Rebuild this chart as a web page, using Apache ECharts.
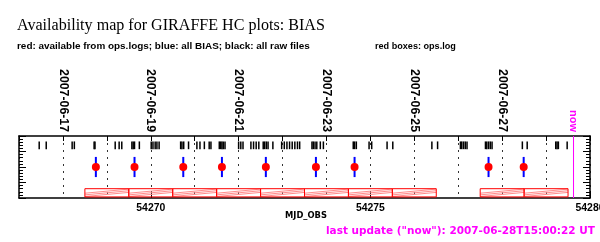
<!DOCTYPE html>
<html><head><meta charset="utf-8">
<script src="https://cdn.jsdelivr.net/npm/echarts@6/dist/echarts.min.js"></script>
<style>html,body{margin:0;padding:0;background:#fff}#c{width:600px;height:242px}</style>
</head><body><div id="c"></div>
<script>
// ---- data ----
const mjdMin = 54267, mjdMax = 54280;
const dateTickMjd = [54268, 54270, 54272, 54274, 54276, 54278];
const dateTickLabels = ['2007-06-17', '2007-06-19', '2007-06-21', '2007-06-23', '2007-06-25', '2007-06-27'];
const mjdTickValues = [54270, 54275, 54280];
const nowMjd = 54279.625;
const nowLabel = 'now';
const rawFilesMjd = [
  54267.46, 54267.62,
  54268.21, 54268.26,
  54268.71, 54268.73,
  54269.19, 54269.28, 54269.34,
  54269.57, 54269.60, 54269.63,
  54269.74,
  54270.01, 54270.05, 54270.10, 54270.14, 54270.19,
  54270.68, 54270.71, 54270.75,
  54270.86,
  54271.05, 54271.12, 54271.22, 54271.33, 54271.37,
  54271.56, 54271.59, 54271.62, 54271.65, 54271.69,
  54272.00, 54272.05, 54272.10,
  54272.28, 54272.34, 54272.40, 54272.46,
  54272.56, 54272.59, 54272.63, 54272.67,
  54272.78,
  54272.98, 54273.04, 54273.10, 54273.16, 54273.22, 54273.28, 54273.34, 54273.39,
  54273.67, 54273.70, 54273.74, 54273.78,
  54273.86, 54273.93,
  54274.61, 54274.64, 54274.68,
  54274.97, 54275.03,
  54275.38, 54275.51,
  54276.40, 54276.53,
  54277.05, 54277.08, 54277.12, 54277.16, 54277.20,
  54277.62, 54277.65, 54277.69, 54277.73,
  54277.77,
  54278.46, 54278.57,
  54279.22, 54279.25, 54279.28,
  54279.48
];
const biasMjd = [54268.75, 54269.63, 54270.74, 54271.62, 54272.62, 54273.76, 54274.64, 54277.69, 54278.49];
const opsLogsMjd = [54268.75, 54269.63, 54270.74, 54271.62, 54272.62, 54273.76, 54274.64, 54277.69, 54278.49];
const opsLogBoxes = [
  [54268.5, 54269.5], [54269.5, 54270.5], [54270.5, 54271.5], [54271.5, 54272.5],
  [54272.5, 54273.5], [54273.5, 54274.5], [54274.5, 54275.5], [54275.5, 54276.5],
  [54277.5, 54278.5], [54278.5, 54279.5]
];
// vertical levels of the rows (y scale 0..4)
const rawRow = [3.15, 3.65];
const dotRow = 2;
const biasHalf = 0.65;
const boxRow = [0.07, 0.6];

// ---- text fitting helper ----
const mctx = document.createElement('canvas').getContext('2d');
function fitSize(text, family, weight, target) {
  mctx.font = weight + ' 100px ' + family;
  return 100 * target / mctx.measureText(text).width;
}
const SANS = '"Liberation Sans", Arial, sans-serif';
const WIDE = '"DejaVu Sans", "Liberation Sans", sans-serif';
const SERIF = '"Liberation Serif", "DejaVu Serif", serif';

const titleText = 'Availability map for GIRAFFE HC plots: BIAS';
const sub1 = 'red: available from ops.logs; blue: all BIAS; black: all raw files';
const sub2 = 'red boxes: ops.log';
const lastUpd = 'last update ("now"): 2007-06-28T15:00:22 UT';
const xName = 'MJD_OBS';

const titleSize = fitSize(titleText, SERIF, 'normal', 308);
const sub1Size = fitSize(sub1, SANS, 'bold', 293);
const sub2Size = fitSize(sub2, SANS, 'bold', 81);
const updSize = fitSize(lastUpd, WIDE, 'bold', 269);
const xNameSize = fitSize(xName, WIDE, 'bold', 42);
const dateSize = 12.3;
const mjdLblSize = fitSize('54270', SANS, 'bold', 29);

const chart = echarts.init(document.getElementById('c'), null, {renderer: 'canvas'});

const yAxisBase = {
  type: 'value', min: 0, max: 4, interval: 1,
  axisLine: {show: true, onZero: false, lineStyle: {color: '#000', width: 1.5}},
  axisTick: {show: true, inside: true, length: 7, lineStyle: {color: '#000'}},
  minorTick: {show: true, splitNumber: 5, length: 4, lineStyle: {color: '#000'}},
  axisLabel: {show: false},
  splitLine: {show: false}
};

chart.setOption({
  animation: false,
  backgroundColor: '#fff',
  grid: {left: 19, right: 10, top: 136, bottom: 44, containLabel: false, outerBoundsMode: 'none'},
  xAxis: [
    {
      type: 'value', position: 'bottom', min: mjdMin, max: mjdMax,
      axisLine: {show: true, onZero: false, lineStyle: {color: '#000', width: 1.5}},
      axisTick: {show: true, inside: true, length: 7, customValues: mjdTickValues, lineStyle: {color: '#000'}},
      axisLabel: {
        show: true, customValues: mjdTickValues, formatter: v => String(Math.round(v)),
        color: '#000', fontWeight: 'bold', fontFamily: SANS, fontSize: mjdLblSize, margin: 5
      },
      splitLine: {show: false}
    },
    {
      type: 'value', position: 'top', min: mjdMin, max: mjdMax, interval: 1,
      axisLine: {show: true, onZero: false, lineStyle: {color: '#000', width: 1.5}},
      axisTick: {show: true, inside: true, length: 5, lineStyle: {color: '#000'}},
      axisLabel: {
        show: true, rotate: 90, margin: 4,
        customValues: dateTickMjd.concat([nowMjd]),
        formatter: v => {
          if (Math.abs(v - nowMjd) < 1e-6) return '{n|' + nowLabel + '}';
          const i = dateTickMjd.findIndex(d => Math.abs(d - v) < 1e-6);
          return i >= 0 ? '{d|' + dateTickLabels[i] + '}' : '';
        },
        rich: {
          d: {color: '#000', fontWeight: 'bold', fontFamily: SANS, fontSize: dateSize},
          n: {color: '#ff00ff', fontWeight: 'bold', fontFamily: SANS, fontSize: 11}
        }
      },
      splitLine: {show: true, lineStyle: {color: '#333', width: 1, type: [2, 5]}}
    }
  ],
  yAxis: [
    Object.assign({}, yAxisBase, {position: 'left'}),
    Object.assign({}, yAxisBase, {position: 'right'})
  ],
  graphic: [
    {type: 'text', x: 17, y: 25.5, style: {text: titleText, font: 'normal ' + titleSize.toFixed(2) + 'px ' + SERIF, fill: '#000', verticalAlign: 'middle'}},
    {type: 'text', x: 17, y: 46.3, style: {text: sub1, font: 'bold ' + sub1Size.toFixed(2) + 'px ' + SANS, fill: '#000', verticalAlign: 'middle'}},
    {type: 'text', x: 375, y: 46.3, style: {text: sub2, font: 'bold ' + sub2Size.toFixed(2) + 'px ' + SANS, fill: '#000', verticalAlign: 'middle'}},
    {type: 'text', x: 306, y: 216, style: {text: xName, font: 'bold ' + xNameSize.toFixed(2) + 'px ' + WIDE, fill: '#000', align: 'center', verticalAlign: 'middle'}},
    {type: 'text', x: 326, y: 231, style: {text: lastUpd, font: 'bold ' + updSize.toFixed(2) + 'px ' + WIDE, fill: '#ff00ff', verticalAlign: 'middle'}}
  ],
  series: [
    {
      type: 'custom', name: 'ops.log boxes', xAxisIndex: 0, yAxisIndex: 0,
      data: opsLogBoxes, encode: {x: [0, 1]},
      renderItem: (params, api) => {
        const a = api.coord([api.value(0), boxRow[1]]);
        const b = api.coord([api.value(1), boxRow[0]]);
        const x0 = a[0], y0 = a[1], x1 = b[0], y1 = b[1], h = y1 - y0;
        const kids = [];
        [0.3, 0.5, 0.7].forEach(k => {
          kids.push({type: 'line', shape: {x1: x0, y1: y0 + (k + 0.25) * h, x2: x1, y2: y0 + (k - 0.25) * h},
            style: {stroke: '#ff8c8c', lineWidth: 1}});
        });
        kids.push({type: 'rect', shape: {x: x0, y: y0, width: x1 - x0, height: h},
          style: {fill: null, stroke: '#ff0000', lineWidth: 1}});
        return {type: 'group', children: kids};
      },
      z: 2
    },
    {
      type: 'custom', name: 'raw files', xAxisIndex: 0, yAxisIndex: 0,
      data: rawFilesMjd.map(v => [v]), encode: {x: 0},
      renderItem: (params, api) => {
        const p0 = api.coord([api.value(0), rawRow[0]]);
        const p1 = api.coord([api.value(0), rawRow[1]]);
        return {type: 'line', shape: {x1: p0[0], y1: p0[1], x2: p1[0], y2: p1[1]}, style: {stroke: '#000', lineWidth: 1.5}};
      },
      z: 3
    },
    {
      type: 'custom', name: 'BIAS', xAxisIndex: 0, yAxisIndex: 0,
      data: biasMjd.map(v => [v]), encode: {x: 0},
      renderItem: (params, api) => {
        const p0 = api.coord([api.value(0), dotRow - biasHalf]);
        const p1 = api.coord([api.value(0), dotRow + biasHalf]);
        return {type: 'line', shape: {x1: p0[0], y1: p0[1], x2: p1[0], y2: p1[1]}, style: {stroke: '#0000ff', lineWidth: 2}};
      },
      z: 4
    },
    {
      type: 'scatter', name: 'ops.logs', xAxisIndex: 0, yAxisIndex: 0,
      data: opsLogsMjd.map(v => [v, dotRow]),
      symbol: 'circle', symbolSize: 8,
      itemStyle: {color: '#ff0000', opacity: 1},
      z: 5
    },
    {
      type: 'line', name: 'now', xAxisIndex: 0, yAxisIndex: 0,
      data: [[nowMjd, 0], [nowMjd, 4]],
      symbol: 'none', lineStyle: {color: '#ff00ff', width: 1},
      z: 6
    }
  ]
});
</script>
</body></html>
